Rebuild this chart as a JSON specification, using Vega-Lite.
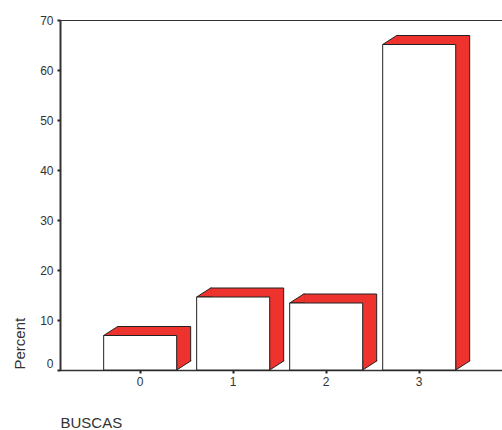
{
  "$schema": "https://vega.github.io/schema/vega-lite/v6.json",
  "width": 443,
  "height": 350,
  "autosize": "none",
  "padding": {"left": 60, "top": 20, "right": 0, "bottom": 60},
  "background": "white",
  "config": {
    "view": {"stroke": "#333", "strokeWidth": 1},
    "font": "Liberation Sans",
    "axis": {
      "grid": false,
      "domainColor": "#333",
      "tickColor": "#222",
      "tickSize": 3,
      "tickWidth": 2,
      "labelColor": "#333",
      "labelFontSize": 12,
      "labelFont": "Liberation Sans",
      "titleFont": "Liberation Sans",
      "titleFontSize": 15,
      "titleFontWeight": "normal",
      "titleColor": "#333"
    }
  },
  "data": {
    "values": [
      {"BUSCAS": "0", "Percent": 6.9},
      {"BUSCAS": "1", "Percent": 14.6},
      {"BUSCAS": "2", "Percent": 13.4},
      {"BUSCAS": "3", "Percent": 65.1}
    ]
  },
  "encoding": {
    "x": {
      "field": "BUSCAS",
      "type": "nominal",
      "scale": {"paddingInner": 0.215, "paddingOuter": 0.489, "align": 0.48},
      "axis": {
        "labelAngle": 0,
        "labelPadding": 3,
        "domainWidth": 1.5,
        "title": "BUSCAS",
        "titleAnchor": "start",
        "titleAlign": "left",
        "titleBaseline": "alphabetic",
        "titleX": 0,
        "titleY": 57.5
      }
    }
  },
  "layer": [
    {
      "mark": {"type": "bar", "fill": "#ee322d", "stroke": "#222", "strokeWidth": 1, "xOffset": 14, "yOffset": -9, "y2Offset": -9},
      "encoding": {
        "y": {
          "field": "Percent",
          "type": "quantitative",
          "scale": {"domain": [0, 70], "nice": false},
          "axis": {
            "values": [0, 10, 20, 30, 40, 50, 60, 70],
            "labelPadding": 4,
            "domainWidth": 2,
            "labelBaseline": {"condition": {"test": "datum.value === 0", "value": "bottom"}, "value": "middle"},
            "title": "Percent",
            "titleAngle": 270,
            "titleAlign": "left",
            "titleBaseline": "alphabetic",
            "titleX": -36,
            "titleY": 349
          }
        }
      }
    },
    {
      "mark": {"type": "point", "shape": "M-21.5,0L-36.5,0L-22.5,-9L-21.5,-9", "size": 4, "filled": true, "fill": "#ee322d", "stroke": "#222", "strokeWidth": 1, "opacity": 1},
      "encoding": {"y": {"field": "Percent", "type": "quantitative"}}
    },
    {
      "mark": {"type": "point", "shape": "M36.5,-10L36.5,0L50.5,-9L50.5,-10", "size": 4, "filled": true, "fill": "#ee322d", "stroke": "#222", "strokeWidth": 1, "opacity": 1},
      "encoding": {"y": {"datum": 0, "type": "quantitative"}}
    },
    {
      "mark": {"type": "bar", "fill": "white", "stroke": "#222", "strokeWidth": 1},
      "encoding": {"y": {"field": "Percent", "type": "quantitative"}}
    }
  ]
}
